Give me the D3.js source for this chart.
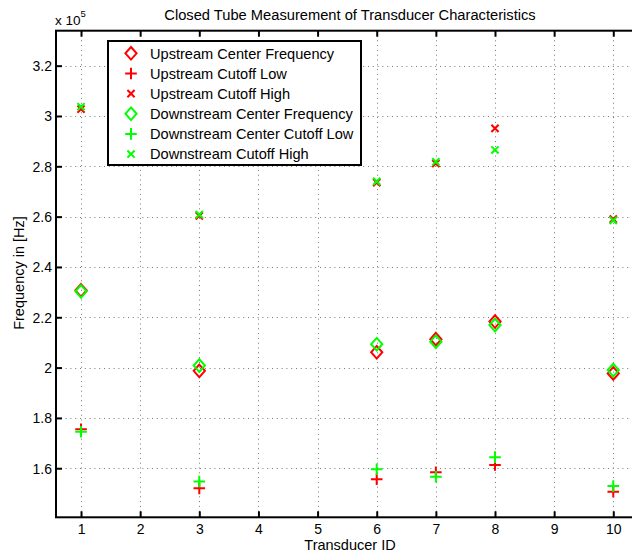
<!DOCTYPE html>
<html><head><meta charset="utf-8">
<script src="https://cdn.jsdelivr.net/npm/d3@7"></script>
<style>
html,body{margin:0;padding:0;background:#fff;}
svg{display:block;font-family:"Liberation Sans",Arial,Helvetica,sans-serif;}
</style></head>
<body>
<svg id="chart" width="632" height="553"></svg>
<script>
// ---- data ----
const transducerIds = [1, 3, 6, 7, 8, 10];
const upCenter   = [230700, 198700, 206100, 211300, 218300, 197700];
const upLow      = [175500, 152000, 155600, 158400, 161300, 150700];
const upHigh     = [302700, 260300, 273500, 281100, 295100, 259000];
const downCenter = [230300, 200800, 209300, 210300, 216900, 199000];
const downLow    = [174500, 154700, 159600, 156600, 164400, 152900];
const downHigh   = [303700, 260800, 274000, 281800, 286500, 258500];
const xTicks = [1, 2, 3, 4, 5, 6, 7, 8, 9, 10];
const yTicks = [160000, 180000, 200000, 220000, 240000, 260000, 280000, 300000, 320000];
const seriesNames = ["Upstream Center Frequency", "Upstream Cutoff Low", "Upstream Cutoff High",
  "Downstream Center Frequency", "Downstream Center Cutoff Low", "Downstream Cutoff High"];
const seriesValues = [upCenter, upLow, upHigh, downCenter, downLow, downHigh];
const seriesMarkers = ["diamond", "plus", "cross", "diamond", "plus", "cross"];
const seriesColors = ["#ff0000", "#ff0000", "#ff0000", "#00ff00", "#00ff00", "#00ff00"];
const titleText = "Closed Tube Measurement of Transducer Characteristics";
const xLabel = "Transducer ID";
const yLabel = "Frequency in [Hz]";

// ---- layout ----
const svg = d3.select("#chart");
const L = 56, R = 638.3, T = 30.7, B = 517.3;
const x = d3.scaleLinear().domain([0.577, 10.423]).range([L, R]);
const y = d3.scaleLinear().domain([140500, 333900]).range([B, T]);
const FONT = '"Liberation Sans",Arial,sans-serif';

function markerPath(type) {
  if (type === "diamond") return "M0,-6.3L5.6,0L0,6.3L-5.6,0Z";
  if (type === "plus") return "M-5.8,0L5.8,0M0,-5.8L0,5.8";
  return "M-3.6,-3.6L3.6,3.6M-3.6,3.6L3.6,-3.6";
}

// grid
const grid = svg.append("g").attr("stroke", "#7a7a7a").attr("stroke-width", 1)
  .attr("stroke-dasharray", "1,3.8").attr("fill", "none");
grid.selectAll("line.v").data(xTicks).join("line").attr("class", "v")
  .attr("x1", d => Math.round(x(d)) + 0.5).attr("x2", d => Math.round(x(d)) + 0.5)
  .attr("y1", T).attr("y2", B);
grid.selectAll("line.h").data(yTicks).join("line").attr("class", "h")
  .attr("y1", d => Math.round(y(d)) + 0.5).attr("y2", d => Math.round(y(d)) + 0.5)
  .attr("x1", L).attr("x2", R);

// axes (ticks inward)
const axB = svg.append("g").attr("transform", `translate(0,${B})`)
  .call(d3.axisBottom(x).tickValues(xTicks).tickSizeInner(-6).tickSizeOuter(0).tickPadding(7).tickFormat(d3.format("d")));
const axT = svg.append("g").attr("transform", `translate(0,${T})`)
  .call(d3.axisTop(x).tickValues(xTicks).tickSizeInner(-6).tickSizeOuter(0).tickFormat(""));
const axL = svg.append("g").attr("transform", `translate(${L},0)`)
  .call(d3.axisLeft(y).tickValues(yTicks).tickSizeInner(-6).tickSizeOuter(0).tickPadding(4)
    .tickFormat(d => String(+(d / 1e5).toFixed(1))));
const axR = svg.append("g").attr("transform", `translate(${R},0)`)
  .call(d3.axisRight(y).tickValues(yTicks).tickSizeInner(-6).tickSizeOuter(0).tickFormat(""));
[axB, axT, axL, axR].forEach(a => {
  a.select(".domain").remove();
  a.selectAll(".tick line").attr("stroke", "#000").attr("stroke-width", 2);
  a.selectAll("text").attr("fill", "#000").attr("font-size", 14).attr("font-family", FONT);
});
axL.selectAll("text").attr("dy", "0.35em");
axB.selectAll("text").attr("dy", "0.71em");

// frame
svg.append("rect").attr("x", L).attr("y", T).attr("width", R - L).attr("height", B - T)
  .attr("fill", "none").attr("stroke", "#000").attr("stroke-width", 2);

// data markers
const marks = svg.append("g");
seriesValues.forEach((vals, i) => {
  marks.append("g").selectAll("path").data(vals).join("path")
    .attr("transform", (v, j) => `translate(${x(transducerIds[j])},${y(v)})`)
    .attr("d", markerPath(seriesMarkers[i]))
    .attr("fill", "none").attr("stroke", seriesColors[i]).attr("stroke-width", 2);
});

// legend
const lg = svg.append("g");
lg.append("rect").attr("x", 108).attr("y", 41).attr("width", 253).attr("height", 124)
  .attr("fill", "#fff").attr("stroke", "#000").attr("stroke-width", 2);
const li = lg.selectAll("g.item").data(seriesNames).join("g").attr("class", "item")
  .attr("transform", (d, i) => `translate(131,${53.3 + i * 20.15})`);
li.append("path").attr("d", (d, i) => markerPath(seriesMarkers[i]))
  .attr("fill", "none").attr("stroke", (d, i) => seriesColors[i]).attr("stroke-width", 2);
li.append("text").attr("x", 19).attr("dy", "0.36em").attr("font-size", 14.6).attr("fill", "#000").text(d => d);

// title and labels
svg.append("text").attr("x", 350).attr("y", 19.5).attr("text-anchor", "middle")
  .attr("font-size", 14.7).attr("fill", "#000").text(titleText);
svg.append("text").attr("x", 350).attr("y", 550).attr("text-anchor", "middle")
  .attr("font-size", 14.5).attr("fill", "#000").text(xLabel);
svg.append("text").attr("transform", "translate(23.5,273) rotate(-90)").attr("text-anchor", "middle")
  .attr("font-size", 14.5).attr("fill", "#000").text(yLabel);
const ex = svg.append("text").attr("x", 55).attr("y", 25).attr("font-size", 13.5).attr("fill", "#000");
ex.append("tspan").text("x 10");
ex.append("tspan").attr("dy", -8).attr("font-size", 9.5).text("5");
</script>
</body></html>
